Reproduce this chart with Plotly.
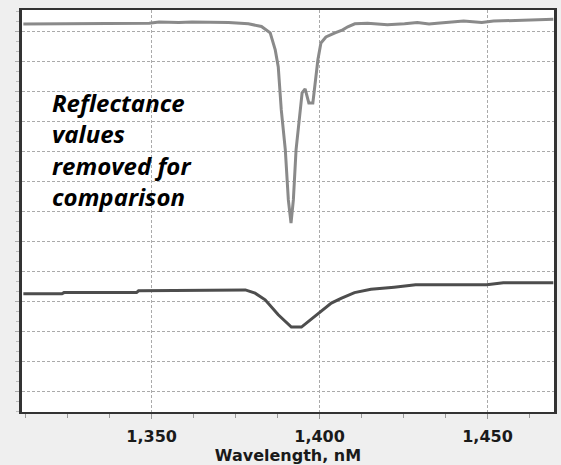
import plotly.graph_objects as go

# Upper spectrum (wavelength nm, arbitrary reflectance units)
upper_wl = [1311.8, 1323.6, 1324.6, 1349.3, 1352.2, 1358.1, 1362.0, 1372.9, 1378.8, 1382.7,
            1385.3, 1386.8, 1387.7, 1388.6, 1389.8, 1390.7, 1391.5, 1392.2, 1393.0, 1394.2,
            1394.8, 1395.7, 1396.8, 1398.0, 1398.6, 1399.5, 1400.4, 1401.9, 1404.6, 1406.9,
            1408.4, 1410.5, 1414.3, 1420.2, 1425.3, 1429.1, 1432.6, 1435.0, 1442.9, 1447.3,
            1448.3, 1451.8, 1464.6, 1469.6]
upper_val = [12.25, 12.26, 12.28, 12.28, 12.32, 12.30, 12.32, 12.30, 12.26, 12.17,
             11.96, 11.39, 10.82, 9.39, 8.06, 6.39, 5.62, 6.39, 8.06, 9.39,
             9.96, 10.09, 9.62, 9.62, 10.29, 11.06, 11.62, 11.82, 11.96, 12.06,
             12.16, 12.26, 12.28, 12.23, 12.26, 12.30, 12.25, 12.28, 12.35, 12.32,
             12.30, 12.35, 12.39, 12.41]

# Lower spectrum
lower_wl = [1311.8, 1323.3, 1323.9, 1345.5, 1346.1, 1366.0, 1377.9, 1380.8, 1383.8, 1387.7,
            1391.6, 1394.6, 1396.6, 1399.5, 1403.5, 1406.4, 1410.4, 1415.3, 1420.2, 1422.2,
            1428.6, 1449.8, 1454.7, 1469.6]
lower_val = [3.26, 3.26, 3.30, 3.30, 3.36, 3.39, 3.39, 3.28, 3.06, 2.56,
             2.15, 2.15, 2.33, 2.56, 2.95, 3.11, 3.30, 3.41, 3.45, 3.48,
             3.56, 3.56, 3.63, 3.63]

x_ticks = [1350, 1400, 1450]
x_tick_labels = ["1,350", "1,400", "1,450"]
note_lines = ["Reflectance", "values", "removed for", "comparison"]

fig = go.Figure()
fig.add_trace(go.Scatter(x=upper_wl, y=upper_val, mode="lines",
                         line=dict(color="#8a8a8a", width=3), showlegend=False))
fig.add_trace(go.Scatter(x=lower_wl, y=lower_val, mode="lines",
                         line=dict(color="#4d4d4d", width=3), showlegend=False))

note_y = [0.771, 0.693, 0.614, 0.536]
for txt, yy in zip(note_lines, note_y):
    fig.add_annotation(text=txt, xref="paper", yref="paper", x=0.052, y=yy,
                       xanchor="left", yanchor="middle", showarrow=False,
                       font=dict(family="Open Sans", size=24, color="#000000",
                                 weight="bold", style="italic"))

fig.update_layout(
    width=561, height=465,
    margin=dict(l=22, r=4, t=10, b=53),
    paper_bgcolor="#efefef", plot_bgcolor="#ffffff",
    xaxis=dict(range=[1311.4, 1469.8], tickmode="array", tickvals=x_ticks,
               ticktext=x_tick_labels, ticks="outside", ticklen=5, tickcolor="#999999",
               ticklabelstandoff=4,
               showgrid=True, gridcolor="#aaaaaa", griddash="3px,2px", gridwidth=1,
               showline=True, mirror=True, linecolor="#333333", linewidth=2,
               zeroline=False,
               minor=dict(dtick=12.5, tick0=1312.5, ticks="outside", ticklen=4,
                          tickcolor="#999999", showgrid=False),
               tickfont=dict(family="DejaVu Sans", size=16, color="#1a1a1a", weight="bold"),
               title=dict(text="Wavelength, nM", standoff=4,
                          font=dict(family="DejaVu Sans", size=16, color="#1a1a1a",
                                    weight="bold"))),
    yaxis=dict(range=[-0.68, 12.72], dtick=1, tick0=0, showticklabels=False,
               ticks="outside", ticklen=4, tickcolor="#aaaaaa",
               showgrid=True, gridcolor="#aaaaaa", griddash="3px,2px", gridwidth=1,
               showline=True, mirror=True, linecolor="#333333", linewidth=2.5,
               zeroline=False,
               minor=dict(dtick=1/3, ticks="outside", ticklen=3, tickcolor="#bbbbbb",
                          showgrid=False)),
)

fig.write_html("out.html", config={"displayModeBar": False},
               post_script="document.body.style.margin='0';"
                           "document.body.style.background='#efefef';")
